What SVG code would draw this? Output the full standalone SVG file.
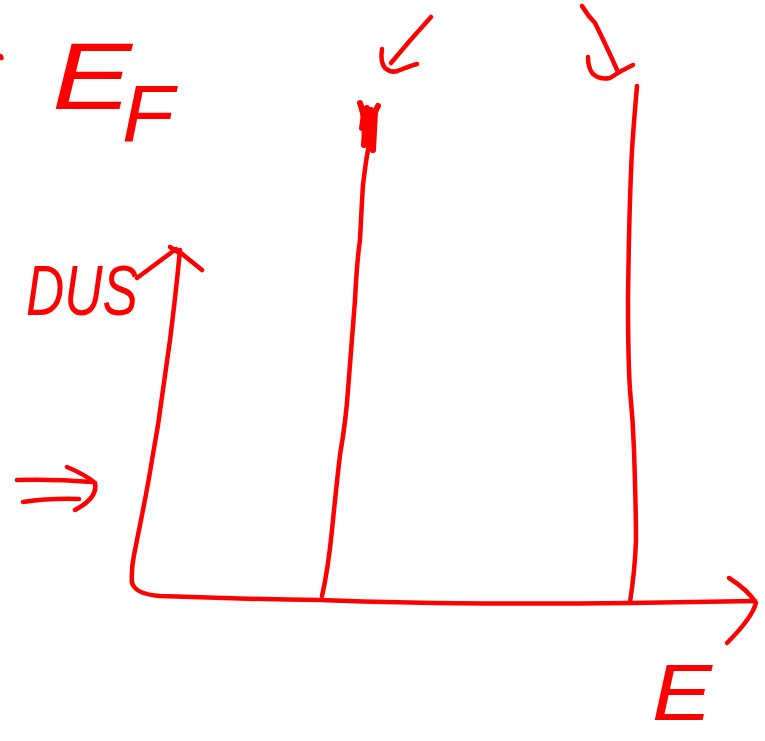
<svg xmlns="http://www.w3.org/2000/svg" width="765" height="741" viewBox="0 0 765 741">
<style>
.s{fill:none;stroke:#ff0000;stroke-width:4.5;stroke-linecap:round;stroke-linejoin:round}
.t{fill:#ff0000;font-family:"Liberation Sans",Arial,sans-serif;font-style:italic}
</style>
<rect width="765" height="741" fill="#ffffff"/>
<g id="labels">
<path class="s" d="M0.5 56 L1.5 58"/>
<text id="label-E-top" class="t" x="52" y="109" font-size="94" textLength="80" lengthAdjust="spacingAndGlyphs">E</text>
<text id="label-F" class="t" x="122" y="141" font-size="79" textLength="52" lengthAdjust="spacingAndGlyphs">F</text>
<text id="label-DUS" class="t" x="26" y="315" font-size="71" textLength="112" lengthAdjust="spacingAndGlyphs">DUS</text>
<text id="label-E-bottom" class="t" x="652" y="720" font-size="80" textLength="60" lengthAdjust="spacingAndGlyphs">E</text>
</g>
<g id="connectors">
<g id="double-arrow">
<path class="s" d="M17 480 Q55 479 92 482"/>
<path class="s" d="M23 502 Q50 498 79 499"/>
<path class="s" d="M67 467 Q86 475 95 483 Q98 498 75 510"/>
</g>
<g id="y-axis">
<path class="s" d="M132 583 Q131 570 134 555 L141 520 Q148 485 152 460 L158 425 Q163 390 170 340 Q175 300 178 270 L180 250"/>
<path class="s" d="M137 278 L176 249 L202 270"/>
<path class="s" d="M170 247 L178 252"/>
</g>
<g id="x-axis">
<path class="s" d="M132 582 Q134 594 160 596 Q240 599 320 600 Q450 605 630 603 Q700 602 755 601"/>
<path class="s" d="M729 578 Q748 590 756 603 Q752 618 727 643"/>
</g>
<g id="middle-line">
<path class="s" d="M322 596 Q328 570 332 530 Q337 480 340 455 Q346 420 348 390 Q352 340 355 300 Q357 260 360 240 Q362 200 363 185 Q366 160 368 150 L371 120"/>
<path class="s" d="M360 103 L364 115 L362 128 L367 108 L369 140 L371 110 L373 150 L375 112 L378 106" style="stroke-width:6"/>
<path class="s" d="M362 108 Q366 125 364 145 M366 112 L370 135 M369 115 L372 142" style="stroke-width:6"/>
</g>
<g id="right-line">
<path class="s" d="M637 86 Q634 120 632 150 Q629 210 628 300 Q628 360 630 390 Q633 420 634 450 Q636 510 636 540 Q635 570 630 602"/>
</g>
<g id="arrow-top-middle">
<path class="s" d="M431 17 Q410 40 391 63"/>
<path class="s" d="M382 49 Q380 62 385 68 Q392 74 400 70 Q410 66 417 64"/>
</g>
<g id="arrow-top-right">
<path class="s" d="M582 6 Q588 16 595 23 Q606 45 618 72"/>
<path class="s" d="M588 57 Q588 68 593 74 Q600 80 610 78 Q622 70 633 65"/>
</g>
</g>
</svg>
